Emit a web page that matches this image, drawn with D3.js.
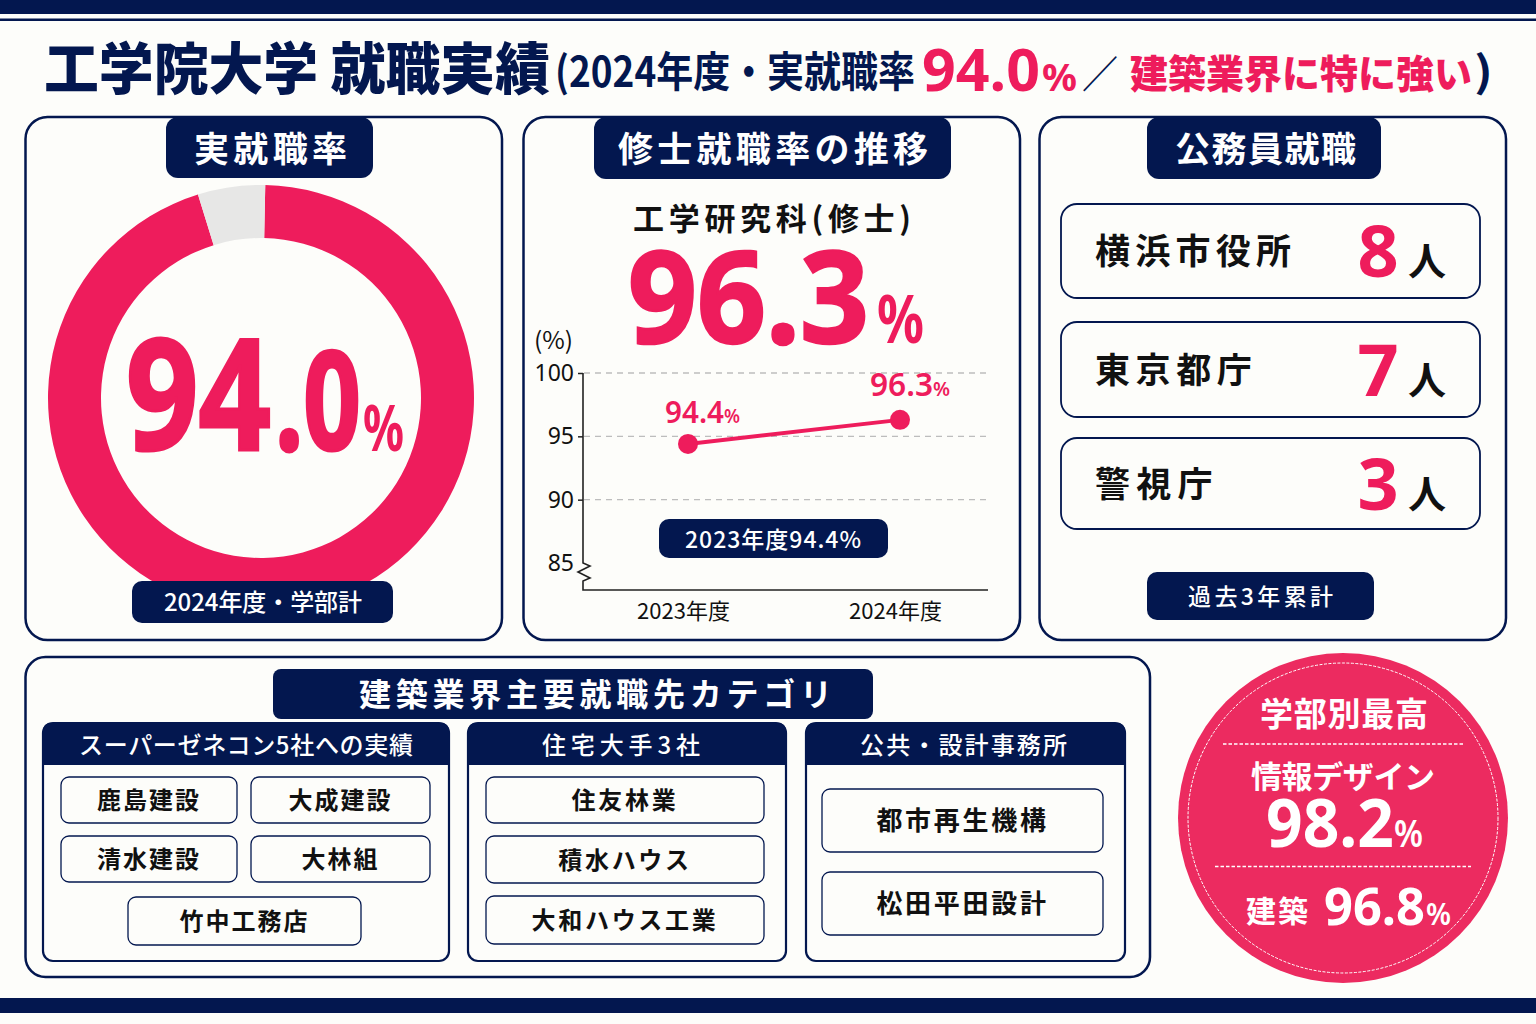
<!DOCTYPE html>
<html>
<head>
<meta charset="utf-8">
<script src="https://d3js.org/d3.v7.min.js"></script>
<style>
  html, body { margin: 0; padding: 0; background: #fdfdfa; }
  svg { display: block; }
  text { font-family: "Noto Sans CJK JP", sans-serif; }
  .num { font-family: "Noto Sans", "Noto Sans CJK JP", sans-serif; }
  .axis text { font-family: "Noto Sans", sans-serif; font-size: 23px; fill: #111; }
  .axis path, .axis line { stroke: #222; stroke-width: 1.5px; }
</style>
</head>
<body>
<script>
var navy = "#03174f", pink = "#ee1c5c", badge = "#ec2b60", ink = "#111";

// donut: printed rate, and the ring's shares as drawn in the picture (gap is about 5%)
var rateLabel = "94.0";
var ringShares = [94.9, 5.1];

// master's line chart
var years = ["2023年度", "2024年度"];
var masterRates = [94.4, 96.3];
var yTicks = [85, 90, 95, 100];

// civil servants
var officeNames = ["横浜市役所", "東京都庁", "警視庁"];
var officeCounts = [8, 7, 3];

// employer categories
var superGenecon = ["鹿島建設", "大成建設", "清水建設", "大林組", "竹中工務店"];
var houseMakers = ["住友林業", "積水ハウス", "大和ハウス工業"];
var publicDesign = ["都市再生機構", "松田平田設計"];

var svg = d3.select("body").append("svg").attr("width", 1536).attr("height", 1024);

function box(x0, y0, x1, y1, r, fill, stroke, sw) {
  return svg.append("rect").attr("x", x0).attr("y", y0)
    .attr("width", x1 - x0).attr("height", y1 - y0).attr("rx", r)
    .attr("fill", fill || "none").attr("stroke", stroke || "none").attr("stroke-width", sw || 0);
}

// x0..x1 is the width the string must fill, glyphs get squeezed
function label(x0, x1, y, str, size, weight, fill, cls) {
  return svg.append("text").attr("class", cls || null)
    .attr("x", x0).attr("y", y)
    .attr("textLength", x1 - x0).attr("lengthAdjust", "spacingAndGlyphs")
    .attr("font-size", size).attr("font-weight", weight).attr("fill", fill)
    .text(str);
}

// same, but only the gaps between glyphs change
function spaced(x0, x1, y, str, size, weight, fill) {
  return label(x0, x1, y, str, size, weight, fill).attr("lengthAdjust", "spacing");
}

// squeezed numerals come out thin, so fatten them a bit
function fat(sel, w) {
  return sel.attr("stroke", sel.attr("fill")).attr("stroke-width", w);
}

// bands
svg.append("rect").attr("width", 1536).attr("height", 14).attr("fill", navy);
svg.append("rect").attr("y", 18.5).attr("width", 1536).attr("height", 2.5).attr("fill", navy);
svg.append("rect").attr("y", 998).attr("width", 1536).attr("height", 15).attr("fill", navy);

// title
label(44, 550, 89, "工学院大学 就職実績", 56, 900, navy);
label(555, 915, 87, "(2024年度・実就職率", 42, 700, navy);
label(922, 1040, 91, "94.0", 60, 700, pink, "num");
label(1042, 1077, 91, "%", 38, 700, pink, "num");
label(1082, 1118, 88, "／", 38, 400, navy);
label(1130, 1472, 88, "建築業界に特に強い", 39, 900, pink);
label(1474, 1493, 87, ")", 42, 700, navy);

// panels
box(25.5, 117, 502, 640, 22, "none", navy, 2.5);
box(523.5, 117, 1020, 640, 22, "none", navy, 2.5);
box(1039.5, 117, 1506, 640, 22, "none", navy, 2.5);
box(25.5, 657, 1150, 977, 20, "none", navy, 2.5);

// panel 1: donut
box(166, 117, 373, 178, 12, navy);
spaced(194, 347, 162, "実就職率", 35, 700, "#fff");

var pie = d3.pie().sort(null).startAngle(0.02).endAngle(2 * Math.PI + 0.02);
var arc = d3.arc().innerRadius(160).outerRadius(213);
svg.append("g").attr("transform", "translate(261,398)")
  .selectAll("path").data(pie(ringShares)).enter().append("path")
  .attr("d", arc)
  .attr("fill", function(d, i) { return i == 0 ? pink : "#e7e7e6"; });

fat(label(126, 271, 450, rateLabel.slice(0, 2), 154, 700, pink, "num"), 3);
fat(label(275, 361, 450, rateLabel.slice(2), 136, 700, pink, "num"), 3);
label(363, 404, 451, "%", 64, 700, pink, "num");

box(132, 581, 393, 623, 10, navy);
spaced(164, 362, 611, "2024年度・学部計", 24, 500, "#fff");

// panel 2: line chart
box(594, 117, 951, 179, 12, navy);
spaced(618, 928, 162, "修士就職率の推移", 35, 700, "#fff");
spaced(633, 911, 230, "工学研究科(修士)", 31, 700, ink);
fat(label(628, 869, 343, masterRates[1].toFixed(1), 128, 700, pink, "num"), 2.5);
label(877, 924, 343, "%", 66, 700, pink, "num");
label(534, 573, 349, "(%)", 24, 400, ink);

var y = d3.scaleLinear().domain([85, 100]).range([563, 373]);
var x = d3.scalePoint().domain(years).range([688, 900]);

svg.append("g").selectAll("line").data(yTicks.slice(1)).enter().append("line")
  .attr("x1", 584).attr("x2", 987)
  .attr("y1", function(d) { return y(d); }).attr("y2", function(d) { return y(d); })
  .attr("stroke", "#bdbdbd").attr("stroke-width", 1.3).attr("stroke-dasharray", "6 5");

var yAxis = d3.axisLeft(y).tickValues(yTicks).tickSize(5).tickPadding(4);
var yG = svg.append("g").attr("class", "axis").attr("transform", "translate(583,0)").call(yAxis);
yG.select(".domain").remove();
yG.selectAll("line").filter(function(d) { return d == 85; }).remove();

// axis spine with a break mark
svg.append("path")
  .attr("d", "M583,373V563L590,566L578,572L590,578L583,581V590H988")
  .attr("fill", "none").attr("stroke", "#222").attr("stroke-width", 1.6);

var xAxis = d3.axisBottom(x).tickSize(0).tickPadding(13);
var xG = svg.append("g").attr("class", "axis").attr("transform", "translate(-5,590)").call(xAxis);
xG.select(".domain").remove();
xG.selectAll("text").style("font-family", '"Noto Sans CJK JP"').style("font-size", "22px");

var line = d3.line()
  .x(function(d, i) { return x(years[i]); })
  .y(function(d) { return y(d); });
svg.append("path").attr("d", line(masterRates))
  .attr("fill", "none").attr("stroke", pink).attr("stroke-width", 4);
svg.selectAll("circle.pt").data(masterRates).enter().append("circle")
  .attr("class", "pt").attr("r", 10).attr("fill", pink)
  .attr("cx", function(d, i) { return x(years[i]); })
  .attr("cy", function(d) { return y(d); });

label(665, 724, 423, masterRates[0].toFixed(1), 31, 600, pink, "num");
label(724, 740, 423, "%", 20, 600, pink, "num");
label(870, 933, 396, masterRates[1].toFixed(1), 33, 600, pink, "num");
label(933, 950, 396, "%", 20, 600, pink, "num");

box(659, 519, 888, 558, 10, navy);
spaced(685, 861, 548, years[0] + masterRates[0].toFixed(1) + "%", 23, 500, "#fff");

// panel 3: civil servants
box(1147, 117, 1381, 179, 12, navy);
spaced(1175, 1356, 162, "公務員就職", 35, 700, "#fff");

var rowTop = [204, 322, 438], rowBot = [298, 417, 529];
officeNames.forEach(function(name, i) {
  var mid = (rowTop[i] + rowBot[i]) / 2;
  box(1061, rowTop[i], 1480, rowBot[i], 16, "none", navy, 1.8);
  spaced(1095, 1095 + name.length * 39.2, mid + 13, name, 35, 700, ink);
  svg.append("text").attr("class", "num").attr("x", 1378).attr("y", mid + 26)
    .attr("text-anchor", "middle").attr("font-size", 72).attr("font-weight", 700)
    .attr("fill", pink).text(officeCounts[i]);
  svg.append("text").attr("x", 1427).attr("y", mid + 24)
    .attr("text-anchor", "middle").attr("font-size", 38).attr("font-weight", 700)
    .attr("fill", ink).text("人");
});

box(1147, 572, 1374, 620, 10, navy);
spaced(1188, 1333, 605, "過去3年累計", 23, 500, "#fff");

// bottom panel
box(273, 669, 873, 719, 8, navy);
spaced(359, 832, 706, "建築業界主要就職先カテゴリ", 32, 700, "#fff");

function group(x0, x1, title, tx0, tx1, names, cells, size, gap) {
  box(x0, 723, x1, 961, 10, "none", navy, 2.2);
  svg.append("path")
    .attr("d", "M" + x0 + ",765V731Q" + x0 + ",723 " + (x0 + 8) + ",723H" + (x1 - 8) + "Q" + x1 + ",723 " + x1 + ",731V765Z")
    .attr("fill", navy);
  spaced(tx0, tx1, 754, title, 24, 500, "#fff");
  names.forEach(function(name, i) {
    var c = cells[i];
    box(c[0], c[1], c[2], c[3], 8, "#fdfdfa", navy, 1.3);
    svg.append("text").attr("x", (c[0] + c[2]) / 2).attr("y", (c[1] + c[3]) / 2 + 9)
      .attr("text-anchor", "middle").attr("font-size", size).attr("font-weight", 700)
      .attr("letter-spacing", gap).attr("fill", ink).text(name);
  });
}

group(43, 449, "スーパーゼネコン5社への実績", 79, 413, superGenecon,
  [[61, 777, 237, 823], [251, 777, 430, 823], [61, 836, 237, 882], [251, 836, 430, 882], [128, 897, 361, 945]], 24, 2);
group(468, 786, "住宅大手3社", 542, 700, houseMakers,
  [[486, 777, 764, 823], [486, 836, 764, 883], [486, 896, 764, 944]], 24, 2.7);
group(806, 1125, "公共・設計事務所", 860, 1067, publicDesign,
  [[822, 789, 1103, 852], [822, 872, 1103, 935]], 26, 2.7);

// badge
svg.append("circle").attr("cx", 1343).attr("cy", 818).attr("r", 165).attr("fill", badge);
svg.append("circle").attr("cx", 1343).attr("cy", 818).attr("r", 155)
  .attr("fill", "none").attr("stroke", "#fff").attr("stroke-width", 1).attr("stroke-dasharray", "3 1.5");
spaced(1260, 1428, 726, "学部別最高", 33, 700, "#fff");
svg.append("line").attr("x1", 1223).attr("x2", 1464).attr("y1", 744).attr("y2", 744)
  .attr("stroke", "#fff").attr("stroke-width", 1.3).attr("stroke-dasharray", "3.5 2");
spaced(1251, 1435, 788, "情報デザイン", 31, 700, "#fff");
label(1266, 1394, 847, "98.2", 66, 700, "#fff", "num");
label(1394, 1423, 847, "%", 38, 600, "#fff", "num");
svg.append("line").attr("x1", 1215).attr("x2", 1471).attr("y1", 866.5).attr("y2", 866.5)
  .attr("stroke", "#fff").attr("stroke-width", 1.3).attr("stroke-dasharray", "3.5 2");
spaced(1246, 1308, 922, "建築", 30, 700, "#fff");
label(1324, 1425, 925, "96.8", 52, 700, "#fff", "num");
label(1426, 1451, 925, "%", 31, 600, "#fff", "num");
</script>
</body>
</html>
